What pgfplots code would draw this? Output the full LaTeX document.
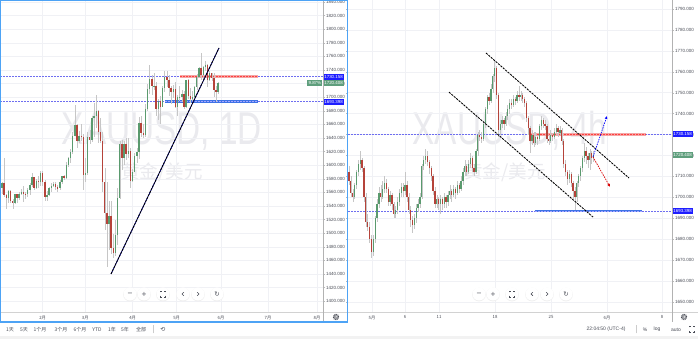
\documentclass[border=0pt]{standalone}
\usepackage{pgfplots}
\pgfplotsset{compat=1.18}
\usepackage{pgfplotstable}
\usepackage{fontspec}
\setmainfont{Liberation Sans}
\newfontfamily\cjk{Noto Sans CJK SC}
\newfontfamily\dejavu{DejaVu Sans}
\usetikzlibrary{arrows.meta}
\definecolor{upc}{HTML}{5A9A6E}
\definecolor{dnc}{HTML}{B5433A}
\definecolor{wickc}{HTML}{C6C6C6}
\definecolor{lvl}{HTML}{6E6EF0}
\definecolor{tagblue}{HTML}{1E1EFF}
\definecolor{taggreen}{HTML}{5E9E7C}
\definecolor{frameblue}{HTML}{4DA3F5}
\definecolor{gridc}{HTML}{F0F1F5}
\definecolor{txt}{HTML}{4A4D57}
\definecolor{wm}{HTML}{EAEAEE}
\definecolor{pinkl}{HTML}{F4A6A6}
\definecolor{blues}{HTML}{3F73E6}

\pgfplotstableread{
i o h l c
-19 1566 1575 1557 1574
-18 1574 1611 1553 1556
-17 1556 1557 1536 1552
-16 1552 1563 1544 1562
-15 1562 1563 1544 1548
-14 1548 1550 1536 1545
-13 1545 1558 1543 1557
-12 1557 1558 1545 1552
-11 1552 1561 1549 1557
-10 1557 1565 1556 1560
-9 1560 1569 1546 1558
-8 1558 1561 1551 1557
-7 1557 1566 1553 1563
-6 1563 1574 1556 1571
-5 1571 1588 1568 1582
-4 1582 1583 1563 1567
-3 1567 1579 1565 1577
-2 1577 1584 1567 1576
-1 1576 1591 1570 1589
0 1589 1592 1570 1576
1 1576 1578 1548 1553
2 1553 1562 1548 1556
3 1556 1568 1554 1566
4 1566 1574 1561 1570
5 1570 1576 1568 1573
6 1573 1575 1563 1568
7 1568 1571 1561 1566
8 1566 1578 1564 1575
9 1575 1584 1573 1584
10 1584 1586 1578 1581
11 1581 1604 1579 1601
12 1601 1612 1598 1611
13 1611 1624 1603 1620
14 1620 1649 1617 1643
15 1643 1689 1643 1659
16 1659 1660 1626 1636
17 1636 1650 1633 1643
18 1643 1660 1636 1642
19 1642 1646 1563 1585
20 1585 1610 1575 1588
21 1588 1649 1585 1641
22 1641 1652 1631 1637
23 1637 1672 1634 1669
24 1669 1692 1641 1673
25 1673 1703 1654 1679
26 1679 1681 1633 1649
27 1649 1670 1633 1635
28 1635 1649 1560 1576
29 1576 1596 1504 1530
30 1530 1575 1451 1514
31 1514 1547 1475 1526
32 1526 1547 1469 1478
33 1478 1499 1463 1471
34 1471 1519 1466 1498
35 1498 1567 1482 1552
36 1552 1635 1551 1631
37 1631 1637 1593 1611
38 1611 1636 1600 1631
39 1631 1640 1607 1617
40 1617 1640 1611 1621
41 1621 1626 1566 1577
42 1577 1594 1575 1590
43 1590 1618 1590 1613
44 1613 1626 1603 1620
45 1620 1671 1609 1662
46 1662 1672 1642 1647
47 1647 1660 1640 1645
48 1645 1690 1641 1683
49 1683 1719 1680 1712
50 1712 1747 1705 1727
51 1727 1732 1703 1716
52 1716 1736 1711 1717
53 1717 1723 1673 1683
54 1683 1697 1667 1694
55 1694 1702 1660 1686
56 1686 1716 1685 1713
57 1713 1738 1708 1730
58 1730 1738 1715 1726
59 1726 1733 1702 1713
60 1713 1716 1690 1707
61 1707 1718 1699 1712
62 1712 1723 1684 1686
63 1686 1703 1672 1700
64 1700 1716 1694 1701
65 1701 1711 1693 1705
66 1705 1709 1682 1686
67 1686 1726 1684 1725
68 1725 1727 1698 1702
69 1702 1714 1692 1698
70 1698 1709 1694 1701
71 1701 1717 1698 1715
72 1715 1734 1710 1730
73 1730 1745 1728 1743
74 1743 1765 1726 1733
75 1733 1746 1727 1745
76 1745 1753 1738 1747
77 1747 1749 1715 1726
78 1726 1738 1724 1735
79 1735 1736 1724 1728
80 1728 1736 1700 1710
81 1710 1717 1693 1708
82 1708 1723 1705 1720.4
}\leftdata

\pgfplotstableread{
i o h l c
0 1712 1715 1706 1708
1 1708 1710 1700 1702
2 1702 1704 1698 1700
3 1700 1707 1699 1706
4 1706 1713 1704 1712
5 1712 1718 1710 1716
6 1716 1722 1713 1718
7 1718 1719 1712 1714
8 1714 1715 1698 1700
9 1700 1702 1686 1688
10 1688 1692 1684 1686
11 1686 1688 1678 1680
12 1680 1682 1671 1674
13 1674 1682 1672 1680
14 1680 1691 1678 1690
15 1690 1699 1688 1697
16 1697 1705 1695 1702
17 1702 1706 1698 1700
18 1700 1708 1699 1704
19 1704 1710 1702 1707
20 1707 1709 1702 1704
21 1704 1705 1696 1698
22 1698 1703 1696 1701
23 1701 1702 1694 1697
24 1697 1698 1690 1692
25 1692 1696 1690 1694
26 1694 1700 1692 1698
27 1698 1704 1696 1702
28 1702 1707 1700 1705
29 1705 1707 1700 1703
30 1703 1712 1701 1706
31 1706 1708 1698 1700
32 1700 1702 1692 1694
33 1694 1696 1686 1689
34 1689 1691 1683 1687
35 1687 1692 1685 1690
36 1690 1697 1688 1695
37 1695 1699 1693 1697
38 1697 1702 1695 1700
39 1700 1716 1699 1715
40 1715 1720 1713 1718
41 1718 1723 1716 1720
42 1720 1722 1715 1717
43 1717 1718 1711 1714
44 1714 1715 1708 1710
45 1710 1711 1701 1703
46 1703 1705 1695 1697
47 1697 1701 1695 1699
48 1699 1700 1694 1697
49 1697 1701 1692 1699
50 1699 1700 1694 1697
51 1697 1702 1695 1700
52 1700 1701 1695 1698
53 1698 1703 1696 1701
54 1701 1706 1699 1703
55 1703 1704 1698 1701
56 1701 1706 1700 1704
57 1704 1705 1699 1702
58 1702 1708 1701 1706
59 1706 1707 1702 1704
60 1704 1710 1703 1708
61 1708 1714 1706 1712
62 1712 1718 1710 1715
63 1715 1716 1710 1712
64 1712 1718 1711 1716
65 1716 1721 1714 1719
66 1719 1720 1712 1714
67 1714 1716 1710 1712
68 1712 1723 1711 1722
69 1722 1731 1720 1730
70 1730 1732 1727 1729
71 1729 1731 1726 1728
72 1728 1736 1727 1735
73 1735 1743 1733 1742
74 1742 1749 1740 1748
75 1748 1750 1744 1746
76 1746 1754 1745 1752
77 1752 1759 1750 1758
78 1758 1765 1755 1762
79 1762 1763 1747 1749
80 1749 1750 1729 1732
81 1732 1737 1730 1735
82 1735 1739 1733 1737
83 1737 1738 1732 1735
84 1735 1741 1734 1739
85 1739 1744 1737 1742
86 1742 1747 1740 1745
87 1745 1747 1742 1744
88 1744 1749 1743 1747
89 1747 1748 1744 1746
90 1746 1751 1745 1749
91 1749 1753 1746 1748
92 1748 1751 1746 1749
93 1749 1750 1745 1747
94 1747 1748 1743 1745
95 1745 1746 1736 1738
96 1738 1739 1730 1733
97 1733 1734 1721 1727
98 1727 1732 1725 1730
99 1730 1731 1724 1726
100 1726 1731 1725 1729
101 1729 1730 1725 1728
102 1728 1735 1727 1734
103 1734 1739 1732 1737
104 1737 1738 1733 1735
105 1735 1737 1732 1734
106 1734 1735 1726 1728
107 1728 1730 1725 1727
108 1727 1732 1726 1730
109 1730 1731 1727 1729
110 1729 1733 1728 1731
111 1731 1735 1730 1733
112 1733 1734 1729 1731
113 1731 1734 1730 1732
114 1732 1733 1725 1727
115 1727 1728 1714 1716
116 1716 1718 1710 1712
117 1712 1713 1706 1709
118 1709 1713 1707 1711
119 1711 1712 1705 1707
120 1707 1708 1699 1703
121 1703 1705 1694 1700
122 1700 1708 1698 1707
123 1707 1711 1705 1710
124 1710 1715 1708 1714
125 1714 1720 1712 1719
126 1719 1726 1717 1722
127 1722 1724 1716 1720
128 1720 1721 1714 1718
129 1718 1723 1713 1721
130 1721 1722 1716 1719
131 1719 1722 1717 1720.4
}\rightdata

% #1 table, #2 x offset, #3 x step, #4 body width
\newcommand{\candles}[4]{%
\addplot[draw=none, mark=none, forget plot,
  error bars/.cd, y dir=both, y explicit, error mark=none,
  error bar style={draw=wickc, line width=0.45pt}]
  table[x expr={#2+#3*\thisrow{i}}, y expr={(\thisrow{h}+\thisrow{l})/2},
        y error expr={(\thisrow{h}-\thisrow{l})/2}] {#1};
\addplot[draw=none, mark=none, forget plot,
  restrict expr to domain={\thisrow{c}-\thisrow{o}}{0:5000},
  error bars/.cd, y dir=both, y explicit, error mark=none,
  error bar style={draw=upc, line width=#4}]
  table[x expr={#2+#3*\thisrow{i}}, y expr={(\thisrow{o}+\thisrow{c})/2},
        y error expr={max(abs(\thisrow{c}-\thisrow{o})/2,0.35)}] {#1};
\addplot[draw=none, mark=none, forget plot,
  restrict expr to domain={\thisrow{c}-\thisrow{o}}{-5000:-0.001},
  error bars/.cd, y dir=both, y explicit, error mark=none,
  error bar style={draw=dnc, line width=#4}]
  table[x expr={#2+#3*\thisrow{i}}, y expr={(\thisrow{o}+\thisrow{c})/2},
        y error expr={max(abs(\thisrow{c}-\thisrow{o})/2,0.35)}] {#1};
}

\pgfplotsset{
  panel/.style={
    anchor=south west, scale only axis, height=312pt,
    axis line style={draw=none}, clip=false,
    yticklabel pos=right,
    yticklabel style={font=\fontsize{4.5}{5}\selectfont, text=txt, inner sep=1pt,
      /pgf/number format/fixed zerofill, /pgf/number format/precision=3,
      /pgf/number format/1000 sep={}, /pgf/number format/assume math mode=true},
    xticklabel style={font=\cjk\fontsize{4.3}{5}\selectfont, text=txt, inner sep=1pt, yshift=-0.6pt},
    grid=major, grid style={draw=gridc, line width=0.5pt},
    tick align=outside, major tick length=2pt,
    ytick style={draw=gray!55, line width=0.4pt}, xtick style={draw=none},
  },
}
\tikzset{
  tag/.style={text=white, font=\fontsize{4.4}{5}\selectfont, inner xsep=1.2pt, inner ysep=0.8pt, minimum height=6pt},
  lvlline/.style={lvl, line width=0.6pt, dash pattern=on 1.5pt off 1.5pt},
}

\begin{document}
\begin{tikzpicture}[x=1pt, y=1pt]
\fill[white] (0,0) rectangle (698,339);

% watermarks
\node[text=wm, font=\fontsize{46}{46}\selectfont, xscale=0.725] at (162,208) {XAUUSD, 1D};
\node[text=wm, font=\cjk\fontsize{18.5}{19}\selectfont] at (162,167) {黄金/美元};
\node[text=wm, font=\fontsize{46}{46}\selectfont, xscale=0.725] at (510,208) {XAUUSD, 4h};
\node[text=wm, font=\cjk\fontsize{18.5}{19}\selectfont] at (505,167) {黄金/美元};

% LEFT PANEL (daily)
\begin{axis}[panel, at={(0pt,27pt)}, width=323pt,
  xmin=0, xmax=323, ymin=1384.1, ymax=1842.94,
  ytick={1400,1420,...,1840},
  xtick={42.7,85.3,132.7,176.7,221,268,317},
  xticklabels={2月,3月,4月,5月,6月,7月,8月}]
\draw[lvlline] (0,1730.158) -- (323,1730.158);
\draw[lvlline] (0,1693.398) -- (323,1693.398);
\draw[pinkl, line width=2.6pt] (180,1730.158) -- (258,1730.158);
\draw[red!75, line width=0.6pt, dash pattern=on 1.5pt off 1.5pt] (180,1730.158) -- (258,1730.158);
\draw[blues, line width=2.6pt] (165,1693.398) -- (258,1693.398);
\draw[blue!35, line width=0.6pt, dash pattern=on 1.5pt off 1.5pt] (165,1693.398) -- (258,1693.398);
\candles{\leftdata}{42.7}{2.14}{1.4pt}
\draw[blue!50!black, line width=0.8pt] (111,1440) -- (219,1772.4);
\draw[black, line width=0.85pt, dash pattern=on 2.2pt off 1pt] (111,1440) -- (219,1772.4);
\coordinate (LA) at (323,1730.158);
\coordinate (LB) at (323,1720.408);
\coordinate (LC) at (323,1693.398);
\end{axis}

% RIGHT PANEL (4h)
\begin{axis}[panel, at={(348pt,27pt)}, width=324pt,
  xmin=348, xmax=672, ymin=1645.23, ymax=1794.3,
  ytick={1650,1660,...,1790},
  xtick={372,405,439,495,551,607,662},
  xticklabels={5月,6,11,18,25,6月,8}]
\draw[lvlline] (348,1730.158) -- (672,1730.158);
\draw[lvlline] (348,1693.398) -- (672,1693.398);
\draw[pinkl, line width=2.6pt] (531,1730.158) -- (646,1730.158);
\draw[red!75, line width=0.6pt, dash pattern=on 1.5pt off 1.5pt] (531,1730.158) -- (646,1730.158);
\draw[blues, line width=2.6pt] (535,1693.398) -- (642,1693.398);
\draw[blue!35, line width=0.6pt, dash pattern=on 1.5pt off 1.5pt] (535,1693.398) -- (642,1693.398);
\candles{\rightdata}{349}{1.867}{1.25pt}
\draw[black, line width=0.85pt, dash pattern=on 2.2pt off 1pt] (486,1768.98) -- (629,1709.25);
\draw[black, line width=0.85pt, dash pattern=on 2.2pt off 1pt] (449,1750.3) -- (593,1690.6);
\draw[blue, line width=0.7pt, dash pattern=on 1.5pt off 1pt, -{Latex[length=3pt,width=3pt]}] (593,1719.3) -- (607,1738.9);
\draw[red!85!black, line width=0.7pt, dash pattern=on 1.5pt off 1pt, -{Latex[length=3pt,width=3pt]}] (593,1719.3) -- (610,1705.0);
\coordinate (RA) at (672,1730.158);
\coordinate (RB) at (672,1720.408);
\coordinate (RC) at (672,1693.398);
\end{axis}

% price tags (on top of tick labels)
\node[tag, fill=tagblue, anchor=west] at (LA) {1730.158};
\node[tag, fill=taggreen, anchor=west] at (LB) {1720.408};
\node[tag, fill=taggreen, anchor=east] at ([xshift=-0.5pt]LB) {9.87\%};
\node[tag, fill=tagblue, anchor=west] at (LC) {1693.398};
\node[tag, fill=tagblue, anchor=west] at (RA) {1730.158};
\node[tag, fill=taggreen, anchor=west] at (RB) {1720.408};
\node[tag, fill=tagblue, anchor=west] at (RC) {1693.398};

% frame lines
\draw[gray!35, line width=0.5pt] (0,27) -- (347,27);
\draw[gray!35, line width=0.5pt] (348,27) -- (698,27);
\draw[gray!60, line width=0.6pt] (323,339) -- (323,17);
\draw[gray!60, line width=0.6pt] (672,339) -- (672,17);
\draw[frameblue, line width=1.3pt] (0.65,338.6) rectangle (347.3,17);

% gear icons
\foreach \gx in {336,684}{
  \draw[txt, line width=1.1pt, dash pattern=on 0.9pt off 0.7pt] (\gx,22) circle (2.6pt);
  \draw[txt, line width=0.5pt] (\gx,22) circle (1.6pt);
}

% navigation buttons
\foreach \bx in {130,144,163,183,198,217,479,493,512,532,547,566}{
  \fill[gray!12] (\bx,44.4) circle (6.8pt);
  \fill[white] (\bx,45) circle (6.5pt);
}
\foreach \bx/\sym in {130/−,144/+,217/↻,479/−,493/+,566/↻}{
  \node[text=txt, font=\dejavu\fontsize{6.5}{6.5}\selectfont] at (\bx,45) {\sym};
}
\foreach \bx in {183,532}{
  \draw[txt, line width=0.55pt] (\bx+0.9,46.8) -- (\bx-0.9,45) -- (\bx+0.9,43.2);
}
\foreach \bx in {198,547}{
  \draw[txt, line width=0.55pt] (\bx-0.9,46.8) -- (\bx+0.9,45) -- (\bx-0.9,43.2);
}
\foreach \bx in {163,512}{
  \draw[txt, line width=0.5pt] (\bx-2.6,43.4) -- ++(0,-1.2) -- ++(1.2,0);
  \draw[txt, line width=0.5pt] (\bx+2.6,43.4) -- ++(0,-1.2) -- ++(-1.2,0);
  \draw[txt, line width=0.5pt] (\bx-2.6,46.6) -- ++(0,1.2) -- ++(1.2,0);
  \draw[txt, line width=0.5pt] (\bx+2.6,46.6) -- ++(0,1.2) -- ++(-1.2,0);
}

% bottom toolbar
\fill[gray!10] (0,0) rectangle (698,2.5);
\foreach \tx/\lab in {10/1天,24/5天,40/1个月,61/3个月,80/6个月,97/YTD,112/1年,125/5年,141/全部}{
  \node[text=txt, font=\cjk\fontsize{5}{5}\selectfont] at (\tx,9.5) {\lab};
}
\draw[gray!40, line width=0.4pt] (153,5.5) -- (153,13.5);
\node[text=txt, font=\dejavu\fontsize{6}{6}\selectfont] at (163,9.5) {⟲};
\node[text=txt, font=\fontsize{5}{5}\selectfont] at (606,9.5) {22:04:50 (UTC-4)};
\draw[gray!40, line width=0.4pt] (636,5.5) -- (636,13.5);
\node[text=txt, font=\fontsize{5}{5}\selectfont] at (645,9.5) {\%};
\node[text=txt, font=\fontsize{5}{5}\selectfont] at (657,9.5) {log};
\node[text=txt, font=\fontsize{5}{5}\selectfont] at (676,9.5) {auto};
\begin{scope}[txt, line width=0.45pt]
  \draw (689.5,7.5) -- ++(0,-1.2) -- ++(1.2,0);
  \draw (694.5,7.5) -- ++(0,-1.2) -- ++(-1.2,0);
  \draw (689.5,11.5) -- ++(0,1.2) -- ++(1.2,0);
  \draw (694.5,11.5) -- ++(0,1.2) -- ++(-1.2,0);
\end{scope}
\pgfresetboundingbox
\path[use as bounding box] (0,0) rectangle (698,339);
\end{tikzpicture}
\end{document}
